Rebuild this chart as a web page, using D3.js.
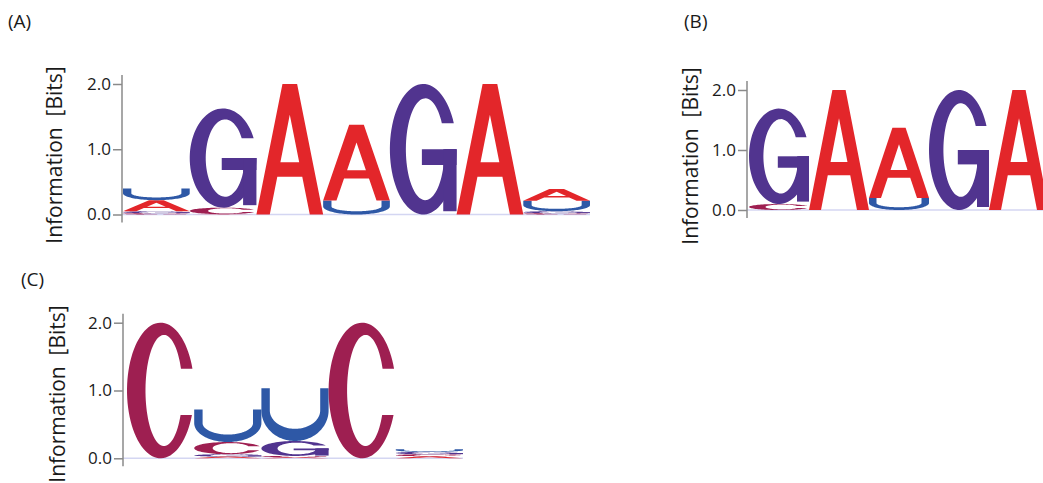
<!DOCTYPE html>
<html>
<head>
<meta charset="utf-8">
<script src="https://cdn.jsdelivr.net/npm/d3@7"></script>
<style>
  html, body { margin: 0; padding: 0; background: #fff; }
  svg { display: block; }
  text.lab { font-family: "Open Sans", "Noto Sans", sans-serif; fill: #1a1a1a; }
</style>
</head>
<body>
<svg id="chart" width="1043" height="483"></svg>
<script>
// ---------- DATA ----------
const nucleotides = ["A", "C", "G", "U"];
const yTicks = [0, 1, 2];
const yTitle = "Information\u00A0 [Bits]";

// Panel (A): 7 positions
const positionsA = [1, 2, 3, 4, 5, 6, 7];
const panelA_A = [0.17, 0.005, 2.0, 1.16, 0, 2.0, 0.18];
const panelA_C = [0.02, 0.10, 0, 0, 0, 0, 0.02];
const panelA_G = [0.03, 1.52, 0, 0, 2.0, 0, 0.03];
const panelA_U = [0.18, 0, 0, 0.215, 0, 0, 0.16];

// Panel (B): 5 positions
const positionsB = [1, 2, 3, 4, 5];
const panelB_A = [0, 2.0, 1.17, 0, 2.0];
const panelB_C = [0.10, 0, 0, 0, 0];
const panelB_G = [1.59, 0, 0, 2.0, 0];
const panelB_U = [0, 0, 0.20, 0, 0];

// Panel (C): 5 positions
const positionsC = [1, 2, 3, 4, 5];
const panelC_A = [0, 0.025, 0.015, 0, 0.03];
const panelC_C = [2.0, 0.18, 0.02, 2.0, 0.03];
const panelC_G = [0, 0.035, 0.22, 0, 0.035];
const panelC_U = [0, 0.48, 0.78, 0, 0.04];

// ---------- STYLE ----------
const colors = { A: "#e3262a", C: "#9e1f51", G: "#51348f", U: "#2e58a6" };

const panels = [
  { label: "(A)", labelX: 8, labelY: 28, positions: positionsA,
    values: { A: panelA_A, C: panelA_C, G: panelA_G, U: panelA_U },
    axisX: 122, y0: 214.5, y2: 84, colStart: 123, colEnd: 590,
    titleX: 62, titleY: 155 },
  { label: "(B)", labelX: 684, labelY: 28, positions: positionsB,
    values: { A: panelB_A, C: panelB_C, G: panelB_G, U: panelB_U },
    axisX: 747, y0: 210, y2: 90, colStart: 749, colEnd: 1049,
    titleX: 698, titleY: 156 },
  { label: "(C)", labelX: 21, labelY: 286, positions: positionsC,
    values: { A: panelC_A, C: panelC_C, G: panelC_G, U: panelC_U },
    axisX: 123, y0: 458.3, y2: 322.7, colStart: 127, colEnd: 463,
    titleX: 65, titleY: 394 }
];

// ---------- GLYPH OUTLINES (unit box, y down) ----------
function ring(o, i, tO0, tO1, tI0, tI1, n) {
  const pts = [];
  for (let k = 0; k <= n; k++) {
    const t = tO0 + (tO1 - tO0) * k / n;
    pts.push([o.cx + o.rx * Math.cos(t), o.cy + o.ry * Math.sin(t)]);
  }
  for (let k = 0; k <= n; k++) {
    const t = tI0 + (tI1 - tI0) * k / n;
    pts.push([i.cx + i.rx * Math.cos(t), i.cy + i.ry * Math.sin(t)]);
  }
  return "M" + pts.map(p => p[0].toFixed(4) + "," + p[1].toFixed(4)).join("L") + "Z";
}
function glyphC() {
  const o = { cx: 0.5, cy: 0.5, rx: 0.5, ry: 0.5 };
  const i = { cx: 0.55, cy: 0.5, rx: 0.275, ry: 0.41 };
  const yt = 0.34, yb = 0.68;
  const oT = Math.asin((yt - o.cy) / o.ry), iT = Math.asin((yt - i.cy) / i.ry);
  const oB = Math.asin((yb - o.cy) / o.ry) - 2 * Math.PI, iB = Math.asin((yb - i.cy) / i.ry) - 2 * Math.PI;
  return [ring(o, i, oT, oB, iB, iT, 80)];
}
function glyphG() {
  const o = { cx: 0.5, cy: 0.5, rx: 0.5, ry: 0.5 };
  const i = { cx: 0.53, cy: 0.5, rx: 0.29, ry: 0.39 };
  const yt = 0.30;
  const oT = Math.asin((yt - o.cy) / o.ry), iT = Math.asin((yt - i.cy) / i.ry);
  return [
    ring(o, i, oT, -2 * Math.PI, -2 * Math.PI, iT, 80),
    "M0.48,0.50L1,0.50L1,0.62L0.48,0.62Z",
    "M0.80,0.50L1,0.50L1,0.975L0.80,0.975Z"
  ];
}
function glyphA() {
  return ["M0,1L0.39,0L0.61,0L1,1L0.80,1L0.687,0.71L0.313,0.71L0.20,1Z" +
          "M0.5,0.235L0.641,0.60L0.359,0.60Z"];
}
function glyphU() {
  const tx = 0.125, yc = 0.42, tb = 0.23;
  const pts = [[0, 0], [tx, 0]];
  const n = 60;
  const irx = 0.5 - tx, iry = (1 - yc) - tb;
  for (let k = 0; k <= n; k++) {
    const t = Math.PI - Math.PI * k / n;
    pts.push([0.5 + irx * Math.cos(t), yc + iry * Math.sin(t)]);
  }
  pts.push([1 - tx, 0], [1, 0]);
  for (let k = 0; k <= n; k++) {
    const t = Math.PI * k / n;
    pts.push([0.5 + 0.5 * Math.cos(t), yc + (1 - yc) * Math.sin(t)]);
  }
  return ["M" + pts.map(p => p[0].toFixed(4) + "," + p[1].toFixed(4)).join("L") + "Z"];
}
const glyphs = { A: glyphA(), C: glyphC(), G: glyphG(), U: glyphU() };

// ---------- DRAW ----------
const svg = d3.select("#chart");

panels.forEach(p => {
  const g = svg.append("g");
  const y = d3.scaleLinear().domain([0, 2]).range([p.y0, p.y2]);
  const x = d3.scaleBand().domain(p.positions).range([p.colStart, p.colEnd]).padding(0);

  g.append("text").attr("class", "lab")
    .attr("x", p.labelX).attr("y", p.labelY)
    .style("font-size", "19px").text(p.label);

  g.append("text").attr("class", "lab")
    .attr("transform", `translate(${p.titleX},${p.titleY}) rotate(-90)`)
    .attr("text-anchor", "middle")
    .style("font-size", "21px").style("white-space", "pre")
    .text(yTitle);

  g.append("line")
    .attr("x1", p.axisX).attr("x2", p.colEnd)
    .attr("y1", y(0)).attr("y2", y(0))
    .attr("stroke", "#d4d6f2").attr("stroke-width", 1.5);

  p.positions.forEach((pos, i) => {
    const stack = nucleotides
      .map((n, k) => ({ n, k, v: p.values[n][i] }))
      .filter(d => d.v > 0)
      .sort((a, b) => a.v - b.v || a.k - b.k);
    let cum = 0;
    stack.forEach(d => {
      const yb = y(cum), yt = y(cum + d.v);
      cum += d.v;
      const w = x.bandwidth(), h = yb - yt;
      const lg = g.append("g")
        .attr("transform", `translate(${x(pos)},${yt}) scale(${w},${h})`);
      glyphs[d.n].forEach(path => {
        lg.append("path").attr("d", path)
          .attr("fill", colors[d.n]).attr("fill-rule", "evenodd");
      });
    });
  });

  const axis = d3.axisLeft(y).tickValues(yTicks).tickFormat(d3.format(".1f"))
    .tickSize(9).tickPadding(2);
  const ag = g.append("g").attr("transform", `translate(${p.axisX},0)`).call(axis);
  ag.select(".domain").remove();
  ag.selectAll(".tick line").attr("stroke", "#8a8a8a").attr("stroke-width", 1.5);
  ag.selectAll(".tick text").attr("class", "lab")
    .style("font-size", "17px").attr("fill", "#1a1a1a")
    .attr("font-family", null);
  ag.append("line")
    .attr("x1", 0).attr("x2", 0)
    .attr("y1", y(2) - 9).attr("y2", y(0) + 8)
    .attr("stroke", "#8a8a8a").attr("stroke-width", 1.5);
});
</script>
</body>
</html>
